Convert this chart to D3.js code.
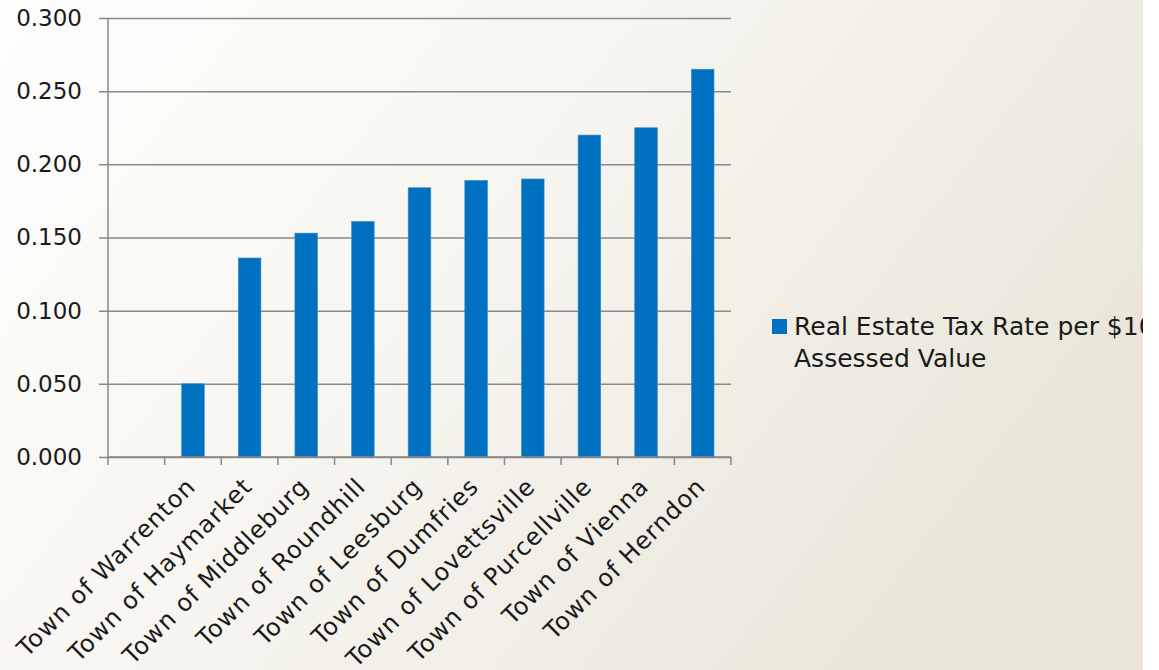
<!DOCTYPE html>
<html>
<head>
<meta charset="utf-8">
<script src="https://d3js.org/d3.v7.min.js"></script>
<style>
  html, body { margin: 0; padding: 0; background: #fff; }
  svg text { font-family: "DejaVu Sans", sans-serif; fill: #1a1a1a; }
</style>
</head>
<body>
<div id="chart"></div>
<script>
// Data (first slot on the axis is empty in the original)
const categories = ["", "Town of Warrenton", "Town of Haymarket", "Town of Middleburg",
  "Town of Roundhill", "Town of Leesburg", "Town of Dumfries", "Town of Lovettsville",
  "Town of Purcellville", "Town of Vienna", "Town of Herndon"];
const taxRates = [null, 0.050, 0.136, 0.153, 0.161, 0.184, 0.189, 0.190, 0.220, 0.225, 0.265];
const yTicks = [0, 0.05, 0.10, 0.15, 0.20, 0.25, 0.30];
const seriesName = ["Real Estate Tax Rate per $100", "Assessed Value"];

const W = 1159, H = 670;
const margin = { top: 18, left: 108 };
const width = 623, height = 439;

const svg = d3.select("#chart").append("svg")
  .attr("width", W).attr("height", H);

// slide background
const defs = svg.append("defs");
const grad = defs.append("linearGradient")
  .attr("id", "bg").attr("x1", 0).attr("y1", 0).attr("x2", 1).attr("y2", 0.45);
grad.append("stop").attr("offset", "0%").attr("stop-color", "#fdfdfc");
grad.append("stop").attr("offset", "45%").attr("stop-color", "#f7f6f1");
grad.append("stop").attr("offset", "100%").attr("stop-color", "#eae7da");
defs.append("clipPath").attr("id", "slideClip")
  .append("rect").attr("width", 1143).attr("height", H);

svg.append("rect").attr("width", 1143).attr("height", H).attr("fill", "url(#bg)");

const g = svg.append("g")
  .attr("transform", `translate(${margin.left},${margin.top})`);

const data = categories.map((c, i) => ({ name: c, value: taxRates[i] }));

const x = d3.scaleBand().domain(categories).range([0, width]).padding(0);
const y = d3.scaleLinear().domain([0, 0.3]).range([height, 0]);

// y axis with gridlines
const yAxis = g.append("g")
  .call(d3.axisLeft(y).tickValues(yTicks).tickSize(9).tickPadding(17)
    .tickFormat(d3.format(".3f")));
yAxis.select(".domain").remove();
yAxis.selectAll(".tick line")
  .attr("x1", -9).attr("x2", width)
  .attr("stroke", "#898989").attr("stroke-width", 1.5);
yAxis.selectAll(".tick text")
  .style("font-size", "23px").attr("fill", "#1a1a1a");

// vertical axis line
g.append("line")
  .attr("x1", 0).attr("x2", 0).attr("y1", 0).attr("y2", height)
  .attr("stroke", "#898989").attr("stroke-width", 1.5);

// bars
g.selectAll(".bar")
  .data(data.filter(d => d.value != null))
  .enter().append("rect")
  .attr("class", "bar")
  .attr("x", d => x(d.name) + x.bandwidth() * 0.3)
  .attr("width", x.bandwidth() * 0.4)
  .attr("y", d => y(d.value))
  .attr("height", d => y(0) - y(d.value))
  .attr("fill", "#0070c0")
  .attr("stroke", "#3d8fd0").attr("stroke-width", 0.6);

// x axis line and ticks at the slot boundaries
const xAxis = g.append("g").attr("transform", `translate(0,${height})`);
xAxis.append("line").attr("x1", 0).attr("x2", width)
  .attr("stroke", "#898989").attr("stroke-width", 1.5);
const bounds = categories.map(c => x(c)).concat([x.range()[1]]);
xAxis.selectAll(".xtick").data(bounds).enter().append("line")
  .attr("x1", d => d).attr("x2", d => d).attr("y1", 0).attr("y2", 8)
  .attr("stroke", "#898989").attr("stroke-width", 1.5);

// rotated category labels
xAxis.selectAll(".xlabel").data(data.filter(d => d.name)).enter().append("text")
  .attr("text-anchor", "end")
  .attr("transform", d => `translate(${x(d.name) + x.bandwidth() / 2 + 4},31) rotate(-45)`)
  .style("font-size", "24px")
  .style("letter-spacing", "1px")
  .text(d => d.name);

// legend (cut by the slide edge, as in the original slide)
const legend = svg.append("g").attr("clip-path", "url(#slideClip)");
legend.append("rect").attr("x", 772).attr("y", 319).attr("width", 15).attr("height", 15)
  .attr("fill", "#0070c0");
legend.selectAll(".lg").data(seriesName).enter().append("text")
  .attr("x", 794).attr("y", (d, i) => 335 + i * 32)
  .style("font-size", "25px")
  .text(d => d);
</script>
</body>
</html>
